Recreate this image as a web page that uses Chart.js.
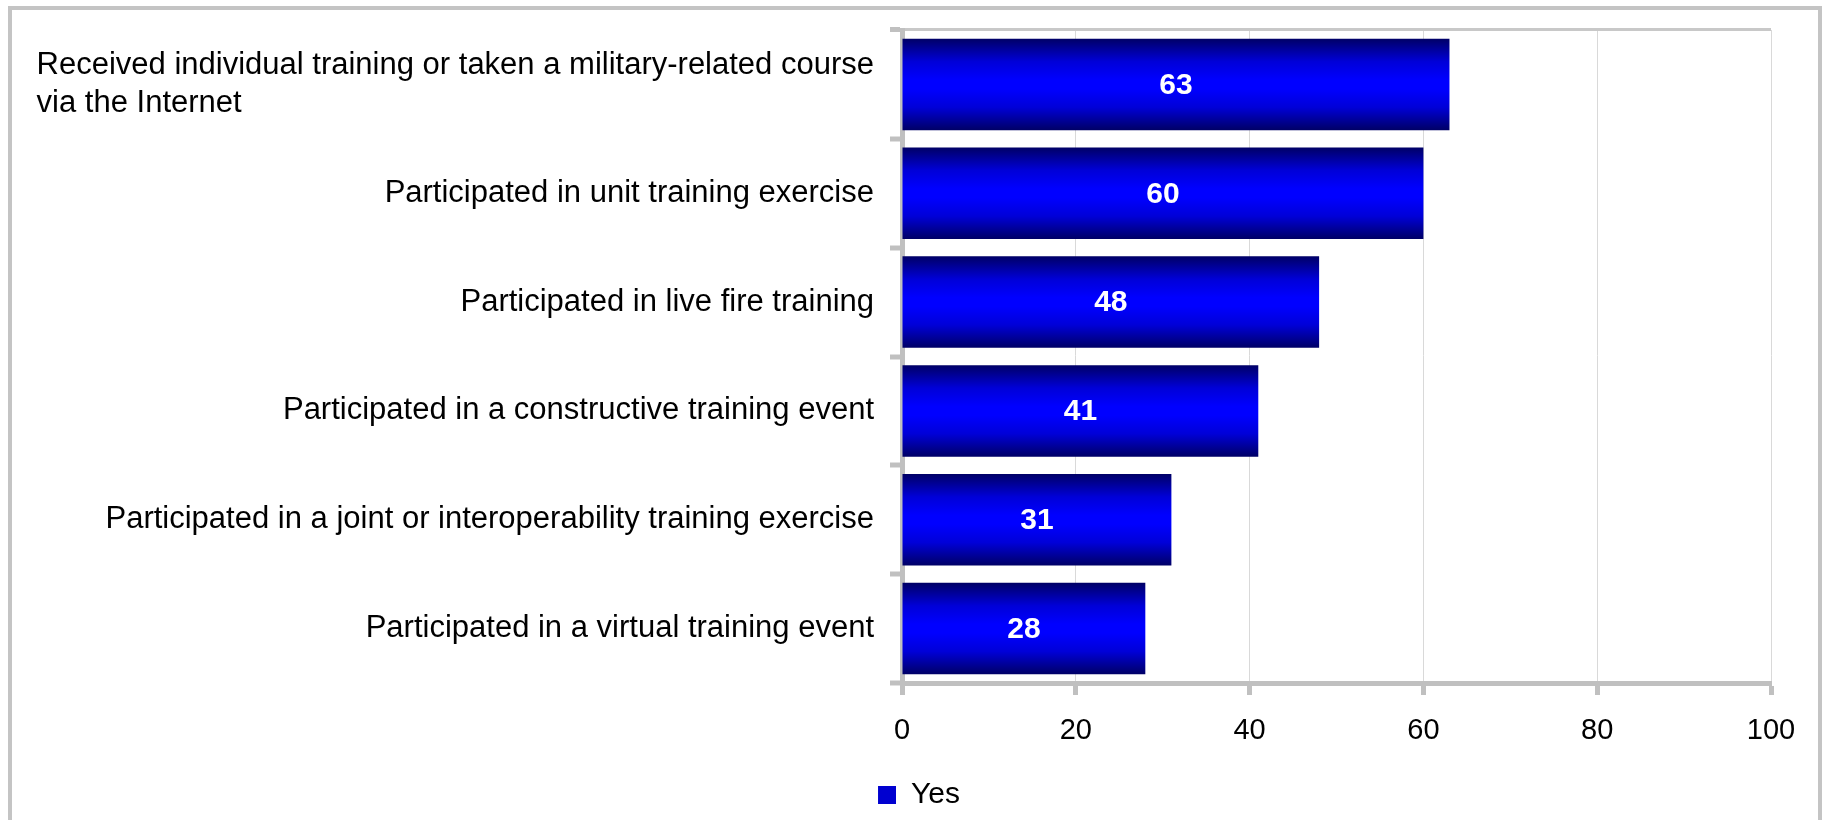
<!DOCTYPE html>
<html>
<head>
<meta charset="utf-8">
<script src="https://cdn.jsdelivr.net/npm/chart.js@4"></script>
<style>
  html, body { margin: 0; padding: 0; background: #fff; overflow: hidden; }
  #frame { position: absolute; left: 8px; top: 6px; width: 1814px; height: 830px; border: 4px solid #c4c4c4; box-sizing: border-box; }
  #wrap { position: absolute; left: 0; top: 0; width: 1822px; height: 820px; }
</style>
</head>
<body>
<div id="frame"></div>
<div id="wrap"><canvas id="chart"></canvas></div>
<script>
"use strict";
const FONT = "'Liberation Sans', Arial, sans-serif";

// --- dados -------------------------------------------------------------------
const categories = [
  ["Received individual training or taken a military-related course", "via the Internet"],
  "Participated in unit training exercise",
  "Participated in live fire training",
  "Participated in a constructive training event",
  "Participated in a joint or interoperability training exercise",
  "Participated in a virtual training event"
];
const yesValues = [63, 60, 48, 41, 31, 28];
const seriesName = "Yes";
const xMin = 0, xMax = 100, xStep = 20;

const AXIS = "#c0c0c0", GRID = "#d9d9d9";
const BAR_PCT = 0.84;
const PAD_LEFT = 67, AXIS_X = 902;

// gradiente vertical por barra (escuro nas bordas, azul vivo no meio)
function barFill(ctx) {
  const chart = ctx.chart;
  const y = chart.scales && chart.scales.y;
  if (!chart.chartArea || !y) return "#0000ff";
  const c = y.getPixelForValue(ctx.dataIndex);
  const half = (y.height / categories.length) * BAR_PCT / 2;
  const g = chart.ctx.createLinearGradient(0, c - half, 0, c + half);
  g.addColorStop(0, "#000066");
  g.addColorStop(0.25, "#0000d8");
  g.addColorStop(0.45, "#0000ff");
  g.addColorStop(0.55, "#0000ff");
  g.addColorStop(0.75, "#0000d8");
  g.addColorStop(1, "#000066");
  return g;
}

// rótulos das categorias: bloco alinhado à direita, linhas alinhadas à esquerda
const catLabels = {
  id: "catLabels",
  afterDraw(chart) {
    const { ctx, scales } = chart;
    const y = scales.y;
    const right = y.right - 12 - 16;
    const lineH = 38;
    ctx.save();
    ctx.font = "31px " + FONT;
    ctx.fillStyle = "#000";
    ctx.textAlign = "left";
    ctx.textBaseline = "middle";
    categories.forEach((lbl, i) => {
      const lines = Array.isArray(lbl) ? lbl : [lbl];
      const w = Math.max(...lines.map((l) => ctx.measureText(l).width));
      const c = y.getPixelForValue(i);
      const y0 = c - (lines.length - 1) * lineH / 2;
      lines.forEach((l, k) => ctx.fillText(l, right - w, y0 + k * lineH));
    });
    ctx.restore();
  }
};

// valores em branco no centro de cada barra
const valueLabels = {
  id: "valueLabels",
  afterDatasetsDraw(chart) {
    const { ctx } = chart;
    const meta = chart.getDatasetMeta(0);
    ctx.save();
    ctx.font = "bold 30px " + FONT;
    ctx.fillStyle = "#fff";
    ctx.textAlign = "center";
    ctx.textBaseline = "middle";
    meta.data.forEach((bar, i) => {
      const p = bar.getCenterPoint();
      ctx.fillText(String(yesValues[i]), p.x, p.y + 1);
    });
    ctx.restore();
  }
};

new Chart(document.getElementById("chart"), {
  type: "bar",
  data: {
    labels: categories,
    datasets: [{
      label: seriesName,
      data: yesValues,
      backgroundColor: barFill,
      barPercentage: BAR_PCT,
      categoryPercentage: 1
    }]
  },
  options: {
    indexAxis: "y",
    responsive: true,
    maintainAspectRatio: false,
    animation: false,
    layout: { padding: { left: PAD_LEFT, top: 30, right: 51, bottom: 0 } },
    scales: {
      x: {
        min: xMin, max: xMax,
        ticks: { stepSize: xStep, color: "#000", font: { family: FONT, size: 29 }, padding: 19 },
        grid: { color: GRID, lineWidth: 1, tickColor: AXIS, tickWidth: 5, tickLength: 12 },
        border: { color: AXIS, width: 5 },
        afterFit(s) { s.height = 87; }
      },
      y: {
        ticks: { display: false },
        grid: {
          offset: true,
          color: (c) => c.index === 0 ? "#c8c8c8" : "rgba(0,0,0,0)",
          lineWidth: (c) => c.index === 0 ? 3 : 0,
          tickColor: AXIS, tickWidth: 5, tickLength: 12
        },
        border: { color: AXIS, width: 5 },
        afterFit(s) { s.width = AXIS_X - PAD_LEFT; }
      }
    },
    plugins: {
      tooltip: { enabled: false },
      legend: {
        position: "bottom",
        labels: {
          color: "#000",
          font: { family: FONT, size: 30 },
          boxWidth: 18, boxHeight: 18, padding: 10,
          generateLabels: () => [{
            text: seriesName, fillStyle: "#0000d0", strokeStyle: "#0000d0",
            lineWidth: 0, datasetIndex: 0, hidden: false
          }]
        }
      }
    }
  },
  plugins: [catLabels, valueLabels]
});
</script>
</body>
</html>
